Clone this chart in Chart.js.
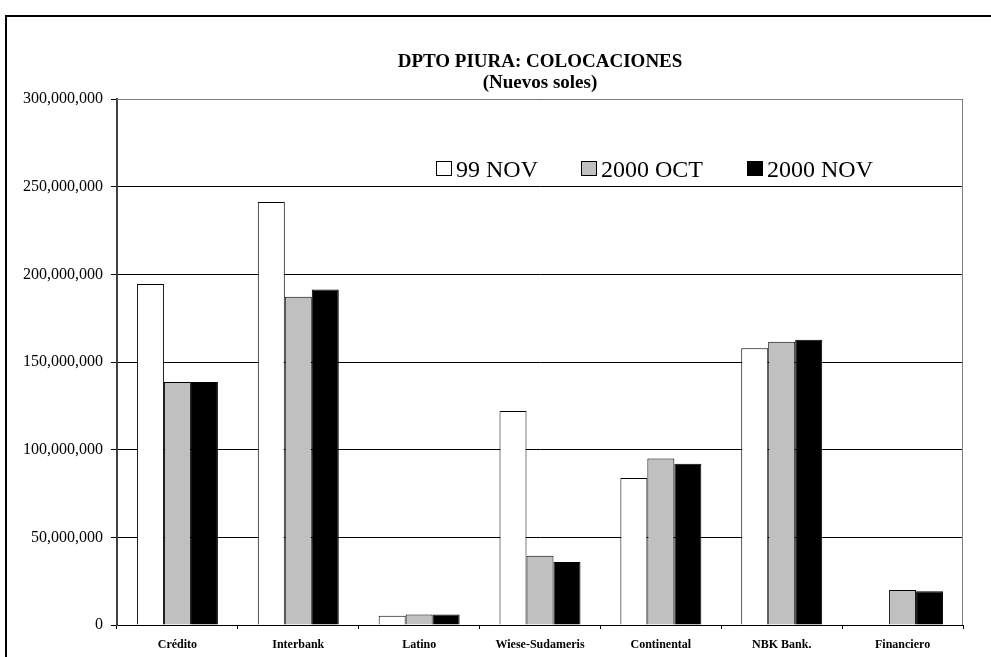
<!DOCTYPE html>
<html>
<head>
<meta charset="utf-8">
<script src="https://cdn.jsdelivr.net/npm/chart.js@4.4.1/dist/chart.umd.min.js"></script>
<style>
  html, body { margin: 0; padding: 0; background: #fff; }
  #wrap { position: relative; width: 991px; height: 657px; }
</style>
</head>
<body>
<div id="wrap"><canvas id="chart" width="991" height="657"></canvas></div>
<script>
// Data
const banks = ['Crédito', 'Interbank', 'Latino', 'Wiese-Sudameris', 'Continental', 'NBK Bank.', 'Financiero'];
const nov99 = [194500000, 241200000, 5300000, 122000000, 83800000, 157800000, 0];
const oct2000 = [138600000, 187200000, 6000000, 39500000, 94900000, 161600000, 20000000];
const nov2000 = [138600000, 191400000, 6000000, 36000000, 92000000, 162700000, 19200000];
const seriesNames = ['99 NOV', '2000 OCT', '2000 NOV'];
const titleLines = ['DPTO PIURA: COLOCACIONES', '(Nuevos soles)'];

const fills = ['#FFFFFF', '#C0C0C0', '#000000'];
const serif = '"Liberation Serif", "Times New Roman", serif';

// frame, title, plot border and the legend drawn by hand
const decor = {
  id: 'decor',
  beforeDraw(chart) {
    const c = chart.ctx;
    c.save();
    c.fillStyle = '#fff';
    c.fillRect(0, 0, chart.width, chart.height);
    c.strokeStyle = '#000';
    c.lineWidth = 2;
    c.beginPath();
    c.moveTo(6, chart.height);
    c.lineTo(6, 16);
    c.lineTo(chart.width, 16);
    c.stroke();
    c.restore();
  },
  afterDraw(chart) {
    const c = chart.ctx;
    const a = chart.chartArea;
    c.save();
    // top and right edges of plot area
    c.strokeStyle = '#808080';
    c.lineWidth = 1;
    c.beginPath();
    c.moveTo(a.left, a.top + 0.5);
    c.lineTo(a.right - 0.5, a.top + 0.5);
    c.lineTo(a.right - 0.5, a.bottom);
    c.stroke();

    // title
    c.fillStyle = '#000';
    c.textAlign = 'center';
    c.textBaseline = 'alphabetic';
    c.font = 'bold 19px ' + serif;
    const cx = (a.left + a.right) / 2;
    c.fillText(titleLines[0], cx, 67);
    c.fillText(titleLines[1], cx, 88);

    // legend
    const lx = [436, 581, 747];
    c.font = '24px ' + serif;
    c.textAlign = 'left';
    chart.data.datasets.forEach((ds, i) => {
      c.fillStyle = ds.backgroundColor;
      c.fillRect(lx[i] + 0.5, 161.5, 15, 14);
      c.strokeStyle = '#000';
      c.lineWidth = 1;
      c.strokeRect(lx[i] + 0.5, 161.5, 15, 14);
      c.fillStyle = '#000';
      c.fillText(ds.label, lx[i] + 20, 176.5);
    });
    c.restore();
  }
};

new Chart(document.getElementById('chart'), {
  type: 'bar',
  data: {
    labels: banks,
    datasets: [
      { label: seriesNames[0], data: nov99, backgroundColor: fills[0] },
      { label: seriesNames[1], data: oct2000, backgroundColor: fills[1] },
      { label: seriesNames[2], data: nov2000, backgroundColor: fills[2] }
    ].map(d => Object.assign(d, {
      borderColor: '#000', borderWidth: 1, borderSkipped: 'bottom',
      categoryPercentage: 0.67, barPercentage: 1
    }))
  },
  options: {
    responsive: false,
    animation: false,
    devicePixelRatio: 1,
    layout: { padding: { top: 99, right: 28, left: 0, bottom: 0 } },
    plugins: {
      legend: { display: false },
      title: { display: false },
      tooltip: { enabled: false }
    },
    scales: {
      x: {
        offset: true,
        grid: { display: true, drawOnChartArea: false, offset: true, tickLength: 4, color: '#000' },
        border: { color: '#000', width: 1 },
        ticks: {
          color: '#000',
          font: { family: serif, size: 12, weight: 'bold' },
          padding: 9,
          maxRotation: 0
        },
        afterFit(s) { s.height = 32; }
      },
      y: {
        min: 0,
        max: 300000000,
        ticks: {
          stepSize: 50000000,
          color: '#000',
          padding: 8,
          font: { family: serif, size: 16 },
          callback: v => v.toLocaleString('en-US')
        },
        grid: { color: '#000', tickLength: 6, lineWidth: 1 },
        border: { color: '#404040', width: 2 },
        afterFit(s) { s.width = 117; }
      }
    }
  },
  plugins: [decor]
});
</script>
</body>
</html>
